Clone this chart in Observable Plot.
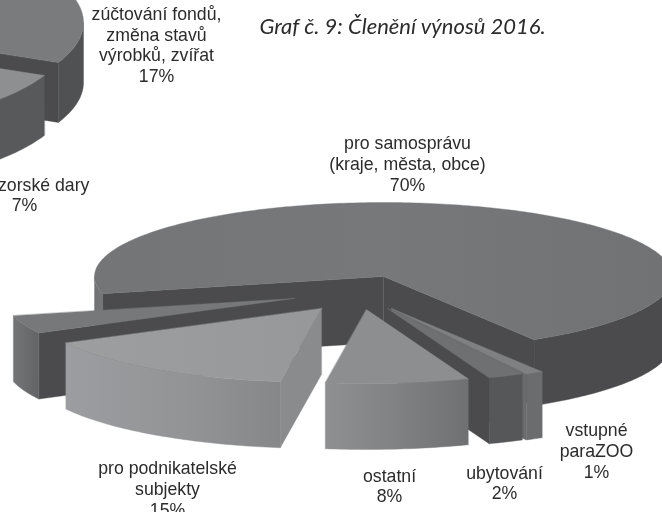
<!DOCTYPE html>
<html>
<head>
<meta charset="utf-8">
<script src="https://cdn.jsdelivr.net/npm/d3@7"></script>
<script src="https://cdn.jsdelivr.net/npm/@observablehq/plot@0.6"></script>
<style>
html,body{margin:0;padding:0;background:#fff}
svg{display:block;filter:blur(0.3px)}
</style>
</head>
<body>
<div id="chart"></div>
<script>
// Data: share of revenue in percent, in drawing order round the pie
const mainNames = ["vstupné paraZOO", "ubytování", "ostatní", "pro podnikatelské subjekty", "(bez popisku)", "pro samosprávu (kraje, města, obce)"];
const mainShares = [1, 2, 8, 15, 4, 70];
const topNames = ["zúčtování fondů, změna stavů výrobků, zvířat", "sponzorské dary"];
const topShares = [17, 7];

// Text
const titleText = "Graf č. 9: Členění výnosů 2016.";
const labelTexts = [
  "zúčtování fondů,\nzměna stavů\nvýrobků, zvířat\n17%",
  "sponzorské dary\n7%",
  "pro samosprávu\n(kraje, města, obce)\n70%",
  "pro podnikatelské\nsubjekty\n15%",
  "ostatní\n8%",
  "ubytování\n2%",
  "vstupné\nparaZOO\n1%"
];
const labelX = [156, 24, 407, 167, 389, 504, 596];
const labelY = [44, 194, 163, 488, 485, 482, 450];

// Layout of the two tilted pies (exploded offsets per slice)
const mainPie = {cx: 383, cy: 276, rx: 289, ry: 74, depth: 66, start: 58.6};
const mainOffsets = [[8, 32], [4, 32], [-17, 33], [-62, 32], [-89, 22], [0, 0]];
const topPie = {cx: -200, cy: 22, rx: 283, ry: 97, depth: 60, start: -36.9};
const topOffsets = [[0, 0], [-14, 13]];

// Styles
const dark = "#4b4b4d";
const mainStyles = [
  {top: "#7f8082", wall: "#6b6c6e", cut: "#6b6c6e"},
  {top: "#6f7072", wall: "#565759", cut: dark},
  {top: "#8d8e90", wall: "url(#gOst)", cut: dark},
  {top: "url(#gPod)", wall: "url(#gPodW)", cut: "#8a8b8d"},
  {top: "#77787a", wall: "url(#gLeft)", cut: dark},
  {top: "url(#gMain)", wall: dark, cut: dark}
];
const topStyles = [
  {top: "#7a7b7d", wall: "#505153", cut: dark},
  {top: "#8e8f91", wall: "#58595b", cut: dark}
];
// order in which main slices are painted, back to front
const mainPaintOrder = [5, 4, 3, 0, 1, 2];
const topPaintOrder = [0, 1];

function pt(p, off, deg, down = 0) {
  const t = deg * Math.PI / 180;
  return {x: p.cx + off[0] + p.rx * Math.cos(t), y: p.cy + off[1] + p.ry * Math.sin(t) + down};
}
function arc(p, off, a, b, down = 0) {
  const n = Math.max(2, Math.ceil(Math.abs(b - a)));
  return d3.range(n + 1).map(i => pt(p, off, a + (b - a) * i / n, down));
}
// Build the visible faces of one slice as closed polygons
function sliceFaces(p, off, a, b, style) {
  const faces = [];
  const apex = {x: p.cx + off[0], y: p.cy + off[1]};
  const apexLow = {x: apex.x, y: apex.y + p.depth};
  const cut = deg => {
    const e = pt(p, off, deg);
    faces.push({pts: [apex, e, {x: e.x, y: e.y + p.depth}, apexLow], fill: style.cut});
  };
  // the cut faces seen from the front
  if (Math.cos(b * Math.PI / 180) > 0) cut(b);
  if (Math.cos(a * Math.PI / 180) < 0) cut(a);
  // outer walls: only the front half of the rim is visible
  for (let k = -1; k <= 1; k++) {
    const lo = Math.max(a, 360 * k), hi = Math.min(b, 360 * k + 180);
    if (hi > lo) {
      faces.push({
        pts: [...arc(p, off, lo, hi), ...arc(p, off, hi, lo, p.depth)],
        fill: (style.wall === dark && k === 0 && p === mainPie && a > 100) ? "url(#gMainLeft)" : style.wall
      });
    }
  }
  faces.push({pts: [apex, ...arc(p, off, a, b)], fill: style.top});
  return faces;
}
function pieFaces(p, shares, offsets, styles, order) {
  let acc = p.start;
  const spans = shares.map(v => { const s = [acc, acc + v * 3.6]; acc = s[1]; return s; });
  return order.flatMap(i => sliceFaces(p, offsets[i], spans[i][0], spans[i][1], styles[i]));
}

// topPie runs from its first visible slice; mainPie runs round from its right-hand cut
const faces = [
  ...pieFaces(mainPie, mainShares, mainOffsets, mainStyles, mainPaintOrder),
  ...pieFaces(topPie, topShares, topOffsets, topStyles, topPaintOrder)
];

const gradient = (id, stops, vertical = false) =>
  `<linearGradient id="${id}" x1="0" y1="0" x2="${vertical ? 0 : 1}" y2="${vertical ? 1 : 0}">` +
  stops.map(([o, c]) => `<stop offset="${o}" stop-color="${c}"/>`).join("") + `</linearGradient>`;

const defs = () => {
  const g = d3.create("svg:defs");
  g.html(
    gradient("gOst", [[0, "#8f9092"], [0.6, "#7d7e80"], [1, "#6f7072"]]) +
    gradient("gPod", [[0, "#9d9ea0"], [1, "#97989a"]]) +
    gradient("gPodW", [[0, "#9c9da0"], [0.6, "#929395"], [1, "#868789"]]) +
    gradient("gLeft", [[0, "#747577"], [1, "#626365"]]) +
    gradient("gMain", [[0, "#747577"], [0.5, "#77787a"], [1, "#717274"]]) +
    gradient("gMainLeft", [[0, "#707173"], [1, "#76777a"]])
  );
  return g.node();
};

const labels = labelTexts.map((text, i) => ({text, x: labelX[i], y: labelY[i]}));

const chart = Plot.plot({
  width: 662,
  height: 512,
  margin: 0,
  x: {domain: [0, 662], range: [0, 662], axis: null},
  y: {domain: [0, 512], range: [0, 512], axis: null},
  marks: [
    defs,
    ...faces.map(f => Plot.line(f.pts, {
      x: "x", y: "y", curve: "linear-closed",
      fill: f.fill, stroke: f.fill, strokeWidth: 0.4
    })),
    Plot.text(labels, {
      x: "x", y: "y", text: "text",
      fontFamily: "Liberation Sans", fontSize: 17.7, lineHeight: 1.165,
      fill: "#2b2b2b", textAnchor: "middle"
    }),
    Plot.text([titleText], {
      x: [402], y: [26], text: d => d,
      fontFamily: "Lato", fontStyle: "italic", fontSize: 22,
      fill: "#2b2b2b", textAnchor: "middle"
    })
  ]
});
chart.style.background = "#fff";
document.getElementById("chart").append(chart);
</script>
</body>
</html>
